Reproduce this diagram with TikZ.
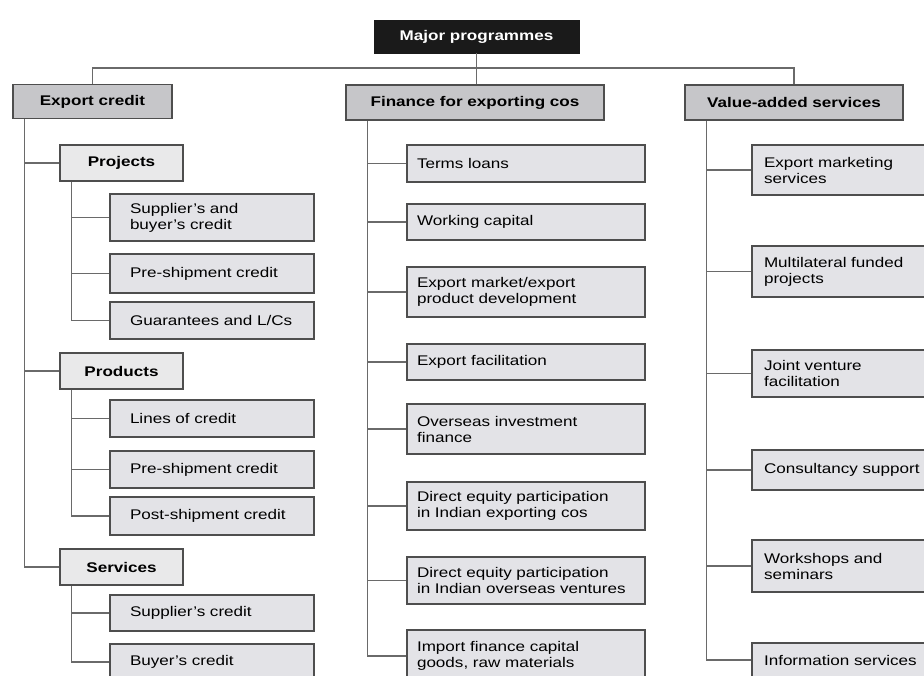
\documentclass[tikz,border=0pt]{standalone}
\usepackage{fontspec}
\setmainfont[FakeStretch=1.22]{Liberation Sans}
\definecolor{linec}{HTML}{6A6A6A}
\definecolor{bordc}{HTML}{4E4E4E}
\definecolor{hdrc}{HTML}{C6C6C9}
\definecolor{subc}{HTML}{E9E9EA}
\definecolor{leafc}{HTML}{E3E3E7}
\definecolor{topc}{HTML}{1A1A1A}
\tikzset{
  ln/.style={draw=linec, line width=1.4pt},
  topbox/.style={draw=topc, fill=topc, text=white, font=\fontsize{14}{16}\selectfont\bfseries,
    minimum width=205pt, minimum height=33pt, inner sep=0pt},
  hdr/.style={draw=bordc, fill=hdrc, line width=1.6pt, font=\fontsize{14}{16}\selectfont\bfseries,
    minimum height=34pt, inner sep=0pt},
  subhdr/.style={draw=bordc, fill=subc, line width=1.3pt, font=\fontsize{14}{16}\selectfont\bfseries,
    minimum width=123pt, minimum height=36pt, inner sep=0pt},
  lleaf/.style={draw=bordc, fill=leafc, line width=1.3pt, text width=164pt, inner xsep=20pt,
    inner ysep=0pt, align=left, minimum height=#1},
  fleaf/.style={draw=bordc, fill=leafc, line width=1.3pt, text width=218pt, inner xsep=10pt,
    inner ysep=0pt, align=left, minimum height=#1},
  vleaf/.style={draw=bordc, fill=leafc, line width=1.3pt, text width=176pt, inner xsep=12pt,
    inner ysep=0pt, align=left, minimum height=#1}
}
\begin{document}
\begin{tikzpicture}[x=1pt, y=-1pt, font=\fontsize{14}{16}\selectfont]
\useasboundingbox (0,0) rectangle (924,675);
\clip (0,0) rectangle (924,675);
\fill[white] (0,0) rectangle (924,675);

% top
\node[topbox] (major) at (476.5,36.5) {Major programmes};
\node[hdr, minimum width=159pt] (ec) at (92.5,101.5) {Export credit};
\node[hdr, minimum width=258pt, minimum height=35pt] (fin) at (475,102.5) {Finance for exporting cos};
\node[hdr, minimum width=218pt, minimum height=35pt] (va) at (794,102.5) {Value-added services};

% export credit column
\node[subhdr] (proj) at (121.5,163) {Projects};
\node[subhdr] (prod) at (121.5,371) {Products};
\node[subhdr] (svc) at (121.5,567) {Services};

\node[lleaf=47pt] (sb) at (212,217.5) {Supplier's and\\buyer's credit};
\node[lleaf=39pt] (pre1) at (212,273.5) {Pre-shipment credit};
\node[lleaf=37pt] (guar) at (212,320.5) {Guarantees and L/Cs};
\node[lleaf=37pt] (loc) at (212,418.5) {Lines of credit};
\node[lleaf=37pt] (pre2) at (212,469.5) {Pre-shipment credit};
\node[lleaf=38pt] (post) at (212,516) {Post-shipment credit};
\node[lleaf=36pt] (supc) at (212,613) {Supplier's credit};
\node[lleaf=36pt] (buyc) at (212,662) {Buyer's credit};

% finance column
\node[fleaf=37pt] (terms) at (526,163.5) {Terms loans};
\node[fleaf=36pt] (work) at (526,222) {Working capital};
\node[fleaf=50pt] (emkt) at (526,292) {Export market/export\\product development};
\node[fleaf=36pt] (efac) at (526,362) {Export facilitation};
\node[fleaf=50pt] (over) at (526,429) {Overseas investment\\finance};
\node[fleaf=48pt] (deq1) at (526,506) {Direct equity participation\\in Indian exporting cos};
\node[fleaf=47pt] (deq2) at (526,580.5) {Direct equity participation\\in Indian overseas ventures};
\node[fleaf=52pt] (imp) at (526,656) {Import finance capital\\goods, raw materials};

% value-added column
\node[vleaf=50pt] (emk) at (852,170) {Export marketing\\services};
\node[vleaf=51pt] (mult) at (852,271.5) {Multilateral funded\\projects};
\node[vleaf=47pt] (jv) at (852,373.5) {Joint venture\\facilitation};
\node[vleaf=40pt] (cons) at (852,470) {Consultancy support};
\node[vleaf=52pt] (wks) at (852,566) {Workshops and\\seminars};
\node[vleaf=34pt] (info) at (852,660) {Information services};

% top connectors
\coordinate (bus) at (476.5,68);
\draw[ln] (major.south) -- (major.south |- fin.north);
\draw[ln] (ec.north) |- (bus) -| (va.north);

% export credit spines
\coordinate (ecs) at ([xshift=12pt]ec.south west);
\draw[ln] (ecs) |- (svc.west);
\draw[ln] (ecs |- proj.west) -- (proj.west);
\draw[ln] (ecs |- prod.west) -- (prod.west);

\coordinate (pjs) at ([xshift=12pt]proj.south west);
\draw[ln] (pjs) |- (guar.west);
\draw[ln] (pjs |- sb.west) -- (sb.west);
\draw[ln] (pjs |- pre1.west) -- (pre1.west);

\coordinate (pds) at ([xshift=12pt]prod.south west);
\draw[ln] (pds) |- (post.west);
\draw[ln] (pds |- loc.west) -- (loc.west);
\draw[ln] (pds |- pre2.west) -- (pre2.west);

\coordinate (svs) at ([xshift=12pt]svc.south west);
\draw[ln] (svs) |- (buyc.west);
\draw[ln] (svs |- supc.west) -- (supc.west);

% finance spine
\coordinate (fs) at ([xshift=22pt]fin.south west);
\draw[ln] (fs) |- (imp.west);
\foreach \n in {terms,work,emkt,efac,over,deq1,deq2}
  \draw[ln] (fs |- \n.west) -- (\n.west);

% value-added spine
\coordinate (vs) at ([xshift=22pt]va.south west);
\draw[ln] (vs) |- (info.west);
\foreach \n in {emk,mult,jv,cons,wks}
  \draw[ln] (vs |- \n.west) -- (\n.west);
\end{tikzpicture}
\end{document}
